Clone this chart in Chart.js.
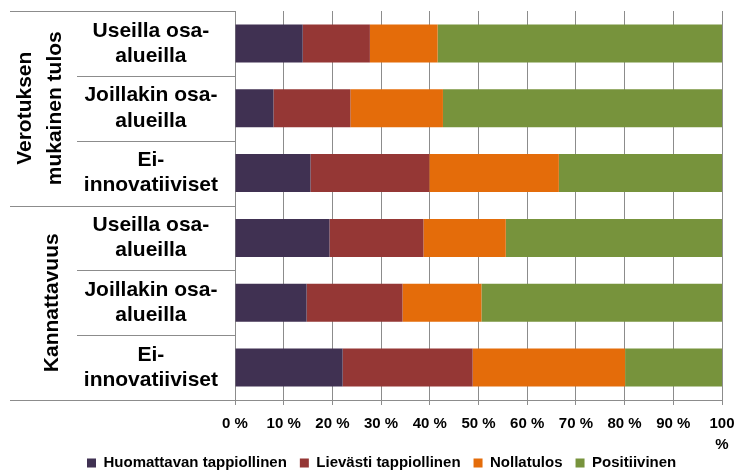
<!DOCTYPE html>
<html>
<head>
<meta charset="utf-8">
<script src="https://cdn.jsdelivr.net/npm/chart.js@4/dist/chart.umd.min.js"></script>
<style>
  html, body { margin: 0; padding: 0; background: #fff; }
  #wrap { width: 736px; height: 472px; }
</style>
</head>
<body>
<div id="wrap"><canvas id="myChart" width="736" height="472"></canvas></div>
<script>
// rivit ylhäältä alas
const categories = [
    ['Useilla osa-', 'alueilla'],
    ['Joillakin osa-', 'alueilla'],
    ['Ei-', 'innovatiiviset'],
    ['Useilla osa-', 'alueilla'],
    ['Joillakin osa-', 'alueilla'],
    ['Ei-', 'innovatiiviset']
];
const groups = [['Verotuksen', 'mukainen tulos'], ['Kannattavuus']];
const groupSizes = [3, 3];

const seriesNames = ['Huomattavan tappiollinen', 'Lievästi tappiollinen', 'Nollatulos', 'Positiivinen'];
const huomattava = [13.9, 7.9, 15.5, 19.4, 14.7, 22.1];
const lievasti = [13.8, 15.8, 24.4, 19.3, 19.7, 26.7];
const nollatulos = [13.9, 19.0, 26.6, 16.9, 16.2, 31.3];
const positiivinen = [58.4, 57.3, 33.5, 44.4, 49.4, 19.9];
const seriesColors = ['#403152', '#953735', '#E46C0A', '#77933C'];

const xTickLabels = ['0 %', '10 %', '20 %', '30 %', '40 %', '50 %', '60 %', '70 %', '80 %', '90 %', ['100', '%']];

const FONT = "'Liberation Sans', Arial, sans-serif";
const lineColor = '#8c8c8c';
const LEGEND_PAD = 13;

// vasemman reunan erotinviivat ja ryhmien otsikot
const sidePanel = {
    id: 'sidePanel',
    afterLayout(chart) {
        // selite alas vasemmalle kuten alkuperäisessä
        const lg = chart.legend;
        lg.top = chart.height - 7.5 - LEGEND_PAD - 9;
        lg.bottom = chart.height;
        lg.left = 87 - LEGEND_PAD;
    },
    afterDraw(chart) {
        const ctx = chart.ctx;
        const y = chart.scales.y;
        const area = chart.chartArea;
        const half = (y.getPixelForValue(1) - y.getPixelForValue(0)) / 2;
        const edges = [];
        for (let i = 0; i < categories.length; i++) edges.push(y.getPixelForValue(i) - half);
        edges.push(y.getPixelForValue(categories.length - 1) + half);

        const groupEdges = [0];
        groupSizes.forEach(s => groupEdges.push(groupEdges[groupEdges.length - 1] + s));

        ctx.save();
        ctx.strokeStyle = lineColor;
        ctx.lineWidth = 1;
        edges.forEach((e, i) => {
            const yy = Math.round(e) + 0.5;
            ctx.beginPath();
            ctx.moveTo(groupEdges.includes(i) ? 10 : 77, yy);
            ctx.lineTo(area.left, yy);
            ctx.stroke();
        });

        ctx.fillStyle = '#000';
        ctx.font = 'bold 21px ' + FONT;
        ctx.textAlign = 'center';
        ctx.textBaseline = 'middle';
        groups.forEach((lines, g) => {
            const cy = (edges[groupEdges[g]] + edges[groupEdges[g + 1]]) / 2;
            const xs = lines.length === 2 ? [25, 55] : [52];
            lines.forEach((t, k) => {
                ctx.save();
                ctx.translate(xs[k], cy);
                ctx.rotate(-Math.PI / 2);
                ctx.fillText(t, 0, 0);
                ctx.restore();
            });
        });
        ctx.restore();
    }
};

const data = [huomattava, lievasti, nollatulos, positiivinen];

new Chart(document.getElementById('myChart'), {
    type: 'bar',
    data: {
        labels: categories,
        datasets: data.map((d, i) => ({
            label: seriesNames[i],
            data: d,
            backgroundColor: seriesColors[i],
            borderWidth: 0,
            categoryPercentage: 1,
            barPercentage: 0.585
        }))
    },
    options: {
        indexAxis: 'y',
        responsive: false,
        animation: false,
        layout: { padding: { top: 11, right: 14, left: 0, bottom: 0 } },
        plugins: {
            tooltip: { enabled: false },
            legend: {
                position: 'bottom',
                align: 'start',
                maxHeight: 17,
                labels: {
                    boxWidth: 9,
                    boxHeight: 9,
                    padding: LEGEND_PAD,
                    color: '#000',
                    font: { family: FONT, size: 15, weight: 'bold' }
                }
            }
        },
        scales: {
            x: {
                stacked: true,
                min: 0,
                max: 100,
                ticks: {
                    stepSize: 10,
                    padding: 8,
                    color: '#000',
                    font: { family: FONT, size: 15, weight: 'bold', lineHeight: 1.4 },
                    callback: (v, i) => xTickLabels[i]
                },
                grid: { color: lineColor, tickLength: 5 },
                border: { color: lineColor },
                afterFit: s => {
                    s.height = 55;
                    s.paddingLeft = 0;
                    s.paddingRight = 0;
                }
            },
            y: {
                stacked: true,
                grid: { display: false },
                border: { display: true, color: lineColor },
                ticks: {
                    crossAlign: 'center',
                    padding: 9,
                    color: '#000',
                    font: { family: FONT, size: 21, weight: 'bold', lineHeight: 1.2 }
                },
                afterFit: s => {
                    s.width = 235;
                    s.paddingTop = 0;
                    s.paddingBottom = 0;
                }
            }
        }
    },
    plugins: [sidePanel]
});
</script>
</body>
</html>
